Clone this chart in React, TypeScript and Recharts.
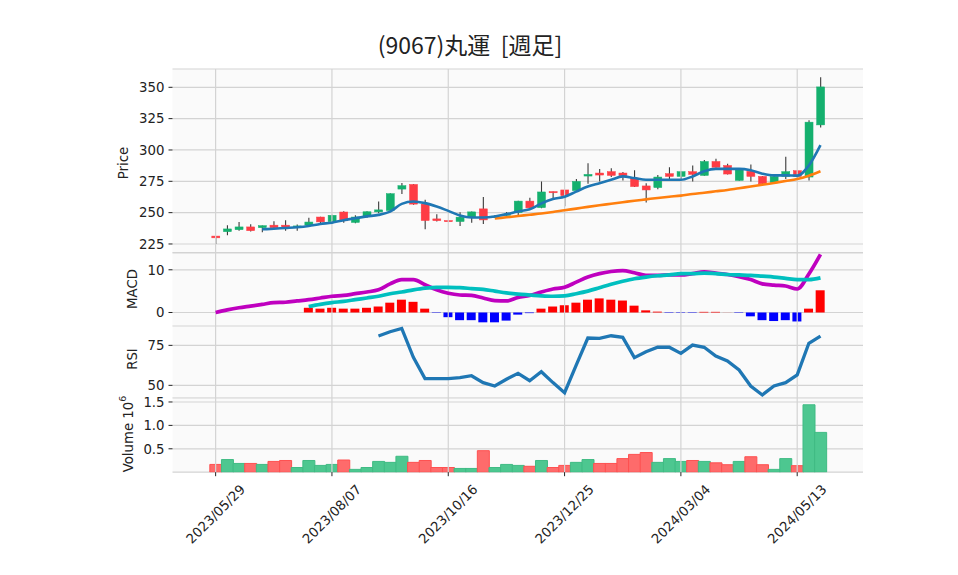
import {
  Bar,
  CartesianGrid,
  Cell,
  ComposedChart,
  Line,
  ReferenceLine,
  XAxis,
  YAxis,
} from "recharts";

const FONT = '"DejaVu Sans", "Noto Sans", sans-serif';
const FONT_JP = '"Noto Sans CJK JP", "Noto Sans", sans-serif';

const dates = [
  "2023/05/29", "2023/06/05", "2023/06/12", "2023/06/19", "2023/06/26", "2023/07/03", "2023/07/10",
  "2023/07/17", "2023/07/24", "2023/07/31", "2023/08/07", "2023/08/14", "2023/08/21", "2023/08/28",
  "2023/09/04", "2023/09/11", "2023/09/18", "2023/09/25", "2023/10/02", "2023/10/09", "2023/10/16",
  "2023/10/23", "2023/10/30", "2023/11/06", "2023/11/13", "2023/11/20", "2023/11/27", "2023/12/04",
  "2023/12/11", "2023/12/18", "2023/12/25", "2024/01/01", "2024/01/08", "2024/01/15", "2024/01/22",
  "2024/01/29", "2024/02/05", "2024/02/12", "2024/02/19", "2024/02/26", "2024/03/04", "2024/03/11",
  "2024/03/18", "2024/03/25", "2024/04/01", "2024/04/08", "2024/04/15", "2024/04/22", "2024/04/29",
  "2024/05/06", "2024/05/13", "2024/05/20", "2024/05/27",
];

const opens = [
  231.3, 234.8, 236.4, 238.6, 238.0, 240.0, 240.0, 238.4, 240.1, 246.5, 242.8, 250.5, 242.2,
  246.9, 250.6, 251.7, 268.8, 272.5, 256.8, 245.0, 243.7, 242.9, 246.4, 253.0, 246.5, 248.0,
  250.0, 259.2, 254.0, 266.8, 268.1, 267.6, 279.2, 281.6, 282.7, 281.6, 277.6, 271.3, 270.0,
  281.1, 278.9, 282.7, 279.7, 290.8, 287.6, 275.7, 283.0, 278.9, 274.0, 278.9, 283.5, 278.4, 320.0,
];
const highs = [
  231.4, 240.0, 242.5, 240.7, 239.7, 243.1, 244.0, 240.5, 246.0, 246.8, 248.3, 251.2, 248.0,
  251.2, 258.9, 265.5, 273.6, 272.8, 260.3, 248.8, 244.0, 250.4, 251.0, 262.4, 248.2, 250.5,
  259.5, 261.9, 274.9, 266.8, 268.1, 276.8, 289.5, 284.9, 285.4, 282.4, 283.8, 273.5, 280.0,
  286.2, 282.9, 287.6, 292.0, 293.0, 289.0, 284.5, 288.4, 279.2, 279.1, 294.6, 283.7, 323.8, 358.0,
];
const lows = [
  225.0, 231.9, 235.6, 235.0, 234.3, 237.2, 235.6, 235.5, 239.5, 241.4, 242.0, 242.0, 241.5,
  246.0, 249.5, 251.0, 264.8, 256.3, 236.8, 242.9, 242.5, 239.4, 242.0, 241.0, 246.0, 247.5,
  248.0, 253.2, 253.5, 260.0, 255.1, 267.0, 273.0, 274.9, 278.4, 275.7, 270.5, 258.1, 268.6,
  276.8, 276.8, 274.9, 279.5, 286.0, 280.5, 275.5, 274.9, 272.8, 273.8, 276.8, 277.0, 275.7, 317.9,
];
const closes = [
  229.9, 237.0, 238.6, 235.6, 239.6, 238.0, 237.8, 239.4, 242.5, 242.6, 247.9, 243.5, 246.5,
  250.7, 252.2, 265.1, 271.5, 256.8, 243.7, 243.6, 242.9, 246.4, 250.6, 244.2, 247.2, 248.8,
  259.2, 253.8, 266.5, 266.0, 263.5, 274.9, 280.5, 280.0, 279.7, 279.5, 270.8, 268.1, 278.4,
  278.9, 282.7, 280.5, 290.8, 286.2, 280.8, 284.3, 278.9, 273.0, 278.9, 282.7, 278.9, 322.2, 350.3,
];

// 出来高 (x10^6)
const volumes = [
  0.166, 0.27, 0.187, 0.187, 0.166, 0.23, 0.25, 0.1, 0.25, 0.145, 0.166, 0.26, 0.06,
  0.1, 0.23, 0.21, 0.34, 0.21, 0.25, 0.1, 0.1, 0.08, 0.08, 0.46, 0.1, 0.166, 0.145,
  0.126, 0.25, 0.1, 0.145, 0.21, 0.27, 0.187, 0.187, 0.29, 0.38, 0.42, 0.21, 0.29,
  0.23, 0.25, 0.23, 0.2, 0.16, 0.23, 0.33, 0.16, 0.06, 0.29, 0.14, 1.44, 0.85,
];

const maShort = [
  null, null, null, null, 236.7, 237.2, 237.8, 238.4, 239.4, 241.0, 242.0, 244.0, 245.5,
  247.0, 248.2, 250.8, 257.0, 258.9, 257.6, 254.9, 251.4, 247.7, 246.1, 246.1, 246.9, 248.8,
  250.9, 252.7, 257.3, 260.8, 262.7, 266.8, 270.8, 273.5, 276.2, 278.9, 277.6, 276.2, 276.2,
  276.2, 276.2, 278.9, 283.0, 284.9, 284.9, 284.9, 283.8, 281.1, 279.7, 279.7, 279.5, 287.6, 303.8,
];
const maLong = [
  null, null, null, null, null, null, null, null, null, null, null, null, null,
  null, null, null, null, null, null, null, null, null, null, null, 245.3, 246.3,
  247.3, 248.3, 249.3, 250.5, 251.9, 253.2, 254.6, 255.9, 257.1, 258.3, 259.5, 260.6, 261.7,
  262.7, 263.6, 264.9, 265.9, 267.0, 268.1, 269.5, 270.8, 272.2, 273.7, 275.2, 276.8, 279.5, 283.0,
];

const macd = [
  0, 0.6, 1.1, 1.5, 1.9, 2.3, 2.4, 2.7, 3.0, 3.4, 3.8, 4.0, 4.4,
  4.8, 5.3, 6.7, 7.7, 7.7, 6.5, 5.3, 4.5, 4.1, 4.0, 3.4, 2.8, 2.7,
  3.5, 4.0, 4.8, 5.5, 5.9, 7.1, 8.3, 9.1, 9.6, 9.8, 9.3, 8.7, 8.7,
  8.8, 8.8, 9.1, 9.5, 9.2, 8.9, 8.4, 7.7, 6.7, 6.4, 6.2, 5.5, 9.0, 13.6,
];
const signal = [
  null, null, null, null, null, null, null, null, 1.4, 1.9, 2.3, 2.6, 3.0,
  3.4, 3.8, 4.4, 4.8, 5.3, 5.7, 5.9, 5.9, 5.8, 5.6, 5.4, 5.0, 4.6,
  4.3, 4.1, 3.9, 3.8, 3.9, 4.4, 5.0, 5.8, 6.6, 7.3, 7.9, 8.3, 8.6,
  8.8, 9.1, 9.1, 9.2, 9.1, 8.9, 8.8, 8.7, 8.5, 8.3, 8.0, 7.7, 7.7, 8.1,
];
const hist = [
  null, null, null, null, null, null, null, null, 1.1, 0.9, 1.1, 0.9, 0.9,
  1.1, 1.4, 2.3, 3.0, 2.5, 0.9, -0.1, -1.1, -1.8, -1.8, -2.3, -2.3, -1.9,
  -0.5, -0.15, 0.9, 1.4, 1.7, 2.3, 3.0, 3.3, 3.0, 2.8, 1.6, 0.5, 0.2,
  -0.1, -0.1, -0.1, 0.15, 0.15, 0.02, -0.1, -0.9, -1.8, -2.0, -1.8, -2.1, 0.9, 5.2,
];

const rsi = [
  null, null, null, null, null, null, null, null, null, null, null, null, null,
  null, 80.8, 83.5, 85.6, 67.5, 54.2, 54.2, 54.2, 54.8, 56.0, 51.7, 49.6, 53.8,
  57.5, 52.9, 58.5, 51.7, 45.4, 62.7, 79.6, 79.4, 81.0, 80.0, 67.3, 71.0, 73.8,
  73.8, 70.0, 75.2, 73.8, 68.3, 65.2, 59.6, 49.6, 44.0, 49.6, 51.7, 56.5, 76.3, 80.8,
];

const gridIdx = [0, 10, 20, 30, 40, 50];
const priceTicks = [225, 250, 275, 300, 325, 350];
const macdTicks = [0, 10];
const rsiTicks = [50, 75];
const volTicks = [0.5, 1.0, 1.5];

const data = dates.map((date, i) => ({
  date,
  open: opens[i],
  high: highs[i],
  low: lows[i],
  close: closes[i],
  vol: volumes[i],
  // 出来高の色は前週終値との比較
  volUp: i === 0 ? closes[i] >= opens[i] : closes[i] >= closes[i - 1],
  maShort: maShort[i],
  maLong: maLong[i],
  macd: macd[i],
  signal: signal[i],
  hist: hist[i],
  rsi: rsi[i],
}));

const UP = "#14b06e";
const DOWN = "#fe3c45";
const GRID = "#d3d3d3";
const FS = 13.3;

const W = 958;
const PLOT_L = 172.5;
const PLOT_R = 863;
const YW = 50;
const PADT = 12;
const margin = { top: PADT, right: W - PLOT_R, bottom: 0, left: PLOT_L - YW };
// band scale (charts with bars)
const xPad = { left: 37.3, right: 36.7 };
// point scale (line-only chart): half a band more on each side
const xPadPoint = { left: 43.1, right: 42.5 };

const tickStyle = { fill: "#222", fontSize: FS, fontFamily: FONT };

function Candle(props: any) {
  const { x, width, payload } = props;
  let { y, height } = props;
  if (height < 0) {
    y += height;
    height = -height;
  }
  const { open, close, high, low } = payload;
  const ppu = height / (high - low);
  const top = y + (high - Math.max(open, close)) * ppu;
  const bodyH = Math.max(Math.abs(open - close) * ppu, 1.2);
  const cx = x + width / 2;
  const color = close >= open ? UP : DOWN;
  return (
    <g>
      <line x1={cx} x2={cx} y1={y} y2={y + height} stroke="#3a3a3a" strokeWidth={1.1} />
      <rect x={x} y={top} width={width} height={bodyH} fill={color} stroke={color} strokeWidth={0.5} />
    </g>
  );
}

function DateTick(props: any) {
  const { x, y, payload } = props;
  const cy = y + 36;
  return (
    <text
      x={x}
      y={cy}
      transform={`rotate(-45 ${x} ${cy})`}
      textAnchor="middle"
      dominantBaseline="central"
      {...tickStyle}
    >
      {payload.value}
    </text>
  );
}

function vLines() {
  return gridIdx.map((k) => (
    <ReferenceLine key={k} x={dates[k]} stroke={GRID} strokeWidth={1.2} />
  ));
}

function yAxisProps(domain: number[], ticks: number[]) {
  return {
    width: YW,
    domain,
    ticks,
    interval: 0 as const,
    allowDataOverflow: true,
    axisLine: false,
    tickSize: 4,
    tickMargin: 4,
    tickLine: { stroke: "#222" },
    tick: tickStyle,
  };
}

function Panel({ top, height, children }: any) {
  return (
    <div style={{ position: "absolute", left: 0, top: top - PADT, width: W }}>
      <div
        style={{
          position: "absolute",
          left: PLOT_L,
          top: PADT,
          width: PLOT_R - PLOT_L,
          height,
          boxSizing: "border-box",
          border: "1px solid #ececec",
        }}
      />
      {children}
    </div>
  );
}

export default function App() {
  return (
    <div
      style={{
        position: "fixed",
        left: 0,
        top: 0,
        width: W,
        height: 575,
        background: "#fff",
        fontFamily: FONT,
        overflow: "hidden",
      }}
    >
      {/* 株価 */}
      <Panel top={69} height={183.5}>
        <ComposedChart width={W} height={183.5 + PADT} data={data} margin={margin}>
          <CartesianGrid vertical={false} stroke={GRID} strokeWidth={1.2} fill="#fafafa" />
          {vLines()}
          <XAxis dataKey="date" hide padding={xPad} />
          <YAxis {...yAxisProps([218.2, 364.6], priceTicks)} />
          <Bar
            dataKey={(d: any) => [d.low, d.high]}
            barSize={8}
            shape={(p: any) => <Candle {...p} />}
            isAnimationActive={false}
          />
          <Line dataKey="maLong" type="monotone" stroke="#ff7f0e" strokeWidth={2.6} dot={false} isAnimationActive={false} />
          <Line dataKey="maShort" type="monotone" stroke="#1f77b4" strokeWidth={2.6} dot={false} isAnimationActive={false} />
        </ComposedChart>
      </Panel>

      {/* MACD */}
      <Panel top={252.5} height={73.5}>
        <ComposedChart width={W} height={73.5 + PADT} data={data} margin={margin}>
          <CartesianGrid vertical={false} stroke={GRID} strokeWidth={1.2} fill="#fafafa" />
          {vLines()}
          <XAxis dataKey="date" hide padding={xPad} />
          <YAxis {...yAxisProps([-3.28, 13.93], macdTicks)} />
          <Bar dataKey="hist" barSize={9} isAnimationActive={false}>
            {data.map((d, i) => (
              <Cell key={i} fill={(d.hist ?? 0) >= 0 ? "#ff0000" : "#0000ff"} />
            ))}
          </Bar>
          <Line dataKey="macd" type="monotone" stroke="#bf00bf" strokeWidth={3.7} dot={false} isAnimationActive={false} />
          <Line dataKey="signal" type="monotone" stroke="#00bfbf" strokeWidth={3.7} dot={false} isAnimationActive={false} />
        </ComposedChart>
      </Panel>

      {/* RSI */}
      <Panel top={326} height={72.3}>
        <ComposedChart width={W} height={72.3 + PADT} data={data} margin={margin}>
          <CartesianGrid vertical={false} stroke={GRID} strokeWidth={1.2} fill="#fafafa" />
          {vLines()}
          <XAxis dataKey="date" hide padding={xPadPoint} />
          <YAxis {...yAxisProps([41.9, 87.1], rsiTicks)} />
          <Line dataKey="rsi" type="linear" stroke="#1f77b4" strokeWidth={3.3} dot={false} isAnimationActive={false} />
        </ComposedChart>
      </Panel>

      {/* 出来高 */}
      <Panel top={398.3} height={74.2}>
        <ComposedChart width={W} height={74.2 + PADT + 100} data={data} margin={margin} barCategoryGap={0}>
          <CartesianGrid vertical={false} stroke={GRID} strokeWidth={1.2} fill="#fafafa" />
          {vLines()}
          <XAxis
            dataKey="date"
            padding={xPad}
            height={100}
            interval={9}
            axisLine={false}
            tickSize={4}
            tickMargin={2}
            tickLine={{ stroke: "#222" }}
            tick={<DateTick />}
          />
          <YAxis
            {...yAxisProps([0, 1.585], volTicks)}
            tickFormatter={(v: number) => v.toFixed(1)}
          />
          <Bar dataKey="vol" isAnimationActive={false}>
            {data.map((d, i) => (
              <Cell
                key={i}
                fill={d.volUp ? "#4dc790" : "#fe6b6b"}
                stroke={d.volUp ? "#3fbb84" : "#fe5050"}
                strokeWidth={1}
              />
            ))}
          </Bar>
        </ComposedChart>
      </Panel>

      <svg
        width={W}
        height={575}
        style={{ position: "absolute", left: 0, top: 0, pointerEvents: "none" }}
        fontFamily={FONT}
      >
        <text x={470} y={44} textAnchor="middle" dominantBaseline="central" fontSize={23} fill="#222" fontFamily={FONT_JP} style={{ whiteSpace: "pre" }}>
          {"(9067)丸運  [週足]"}
        </text>
        <text x={123} y={163} transform="rotate(-90 123 163)" textAnchor="middle" dominantBaseline="central" fontSize={FS} fill="#222">
          Price
        </text>
        <text x={132} y={289} transform="rotate(-90 132 289)" textAnchor="middle" dominantBaseline="central" fontSize={FS} fill="#222">
          MACD
        </text>
        <text x={132} y={359} transform="rotate(-90 132 359)" textAnchor="middle" dominantBaseline="central" fontSize={FS} fill="#222">
          RSI
        </text>
        <text x={128} y={434} transform="rotate(-90 128 434)" textAnchor="middle" dominantBaseline="central" fontSize={FS} fill="#222">
          Volume 10
          <tspan fontSize={9.5} dy={-6}>6</tspan>
        </text>
      </svg>
    </div>
  );
}
